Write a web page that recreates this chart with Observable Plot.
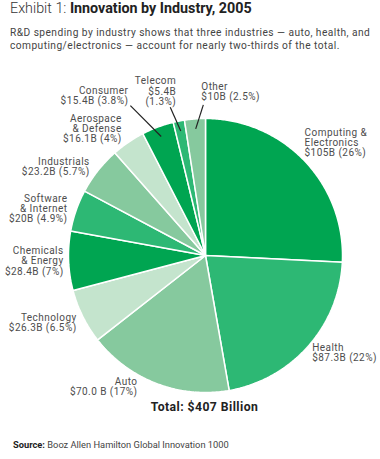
<!DOCTYPE html>
<html><head><meta charset="utf-8">
<script src="https://cdn.jsdelivr.net/npm/d3@7"></script>
<script src="https://cdn.jsdelivr.net/npm/@observablehq/plot@0.6"></script>
<style>
body{margin:0;background:#fff;font-family:Roboto,"Noto Sans",sans-serif;width:380px;height:459px;position:relative;overflow:hidden}
#title{position:absolute;left:10px;top:0px;font-size:14.3px;color:#222;white-space:nowrap}
#title .ex{font-weight:300;color:#333}
#title b{font-weight:700}
#sub{position:absolute;left:10px;top:26px;font-size:10.2px;letter-spacing:0.45px;line-height:13px;color:#444;white-space:nowrap}
#chart{position:absolute;left:0;top:56px}
#src{position:absolute;left:13px;top:439px;font-size:9.3px;color:#444;white-space:nowrap}
#src b{color:#222}
#chart svg text{letter-spacing:0.45px}
#chart svg text.total{letter-spacing:0.3px}
</style></head><body>
<div id="title"><span class="ex">Exhibit 1:</span> <b>Innovation by Industry, 2005</b></div>
<div id="sub">R&amp;D spending by industry shows that three industries — auto, health, and<br>computing/electronics — account for nearly two-thirds of the total.</div>
<div id="chart"></div>
<div id="src"><b>Source:</b> Booz Allen Hamilton Global Innovation 1000</div>
<script>
// ---- data ----
const categories = ["Computing &\nElectronics","Health","Auto","Technology","Chemicals\n& Energy","Software\n& Internet","Industrials","Aerospace\n& Defense","Consumer","Telecom","Other"];
const spending = [105, 87.3, 70.0, 26.3, 28.4, 20, 23.2, 16.1, 15.4, 5.4, 10];
const valueLabels = ["$105B (26%)","$87.3B (22%)","$70.0 B (17%)","$26.3B (6.5%)","$28.4B (7%)","$20B (4.9%)","$23.2B (5.7%)","$16.1B (4%)","$15.4B (3.8%)","$5.4B\n(1.3%)","$10B (2.5%)"];
const totalLabel = "Total: $407 Billion";

// ---- styles / layout ----
const palette = ["#00a551","#2db874","#86c99e","#c4e4cd"];
const R = 137, labelR = 145, leaderInR = 127;
// per-label nudges [dx, dy], text anchor, optional leader end offset from label
const labelLayout = [
  {d:[-6,-13], a:"start"},
  {d:[-2,1], a:"start"},
  {d:[-16,-4], a:"end"},
  {d:[1,2.5], a:"end"},
  {d:[3,0], a:"end"},
  {d:[-1,1], a:"end"},
  {d:[-2,1], a:"end"},
  {d:[-2,-7], a:"end"},
  {d:[-26.5,-24], a:"end", lead:[2,10]},
  {d:[-1,-22], a:"end", lead:[-6,16]},
  {d:[7,-19], a:"start", lead:[2,13]}
];
const font = "Roboto, 'Noto Sans', sans-serif";

const arcs = d3.pie().sort(null).value(d => d)(spending);
const pts = [];
arcs.forEach((a, i) => {
  pts.push({i, x: 0, y: 0});
  const n = Math.max(2, Math.ceil((a.endAngle - a.startAngle) / 0.01));
  for (let k = 0; k <= n; k++) {
    const t = a.startAngle + (a.endAngle - a.startAngle) * k / n;
    pts.push({i, x: R * Math.sin(t), y: -R * Math.cos(t)});
  }
});
const labels = arcs.map((a, i) => {
  const m = (a.startAngle + a.endAngle) / 2;
  const L = labelLayout[i];
  const x = labelR * Math.sin(m) + L.d[0], y = -labelR * Math.cos(m) + L.d[1];
  return {i, m, x, y, anchor: L.a, lead: L.lead, text: categories[i] + "\n" + valueLabels[i]};
});
const leaders = labels.filter(l => l.lead).map(l => ({
  x1: leaderInR * Math.sin(l.m), y1: -leaderInR * Math.cos(l.m),
  x2: l.x + l.lead[0], y2: l.y + l.lead[1]
}));

const labelOpts = {x: "x", y: "y", text: "text", lineAnchor: "middle", lineHeight: 1.02, fontSize: 10, fill: "#4d4d4d", fontFamily: font};
const chart = Plot.plot({
  width: 380, height: 380, margin: 0,
  x: {domain: [-205, 175], range: [0, 380], axis: null},
  y: {domain: [-199, 181], range: [0, 380], axis: null},
  marks: [
    Plot.line(pts, {x: "x", y: "y", z: "i", fill: d => palette[d.i % 4], stroke: "#fff", strokeWidth: 1.5, curve: "linear-closed", strokeLinejoin: "miter"}),
    Plot.link(leaders, {x1: "x1", y1: "y1", x2: "x2", y2: "y2", stroke: "#222", strokeWidth: 1.2}),
    Plot.text(labels.filter(l => l.anchor === "start"), {...labelOpts, textAnchor: "start"}),
    Plot.text(labels.filter(l => l.anchor === "end"), {...labelOpts, textAnchor: "end"}),
    Plot.text([totalLabel], {x: () => -1, y: () => R + 15, text: d => d, fontSize: 12.2, fontWeight: "bold", fill: "#222", fontFamily: font, lineAnchor: "middle", className: "total"})
  ]
});
document.getElementById("chart").appendChild(chart);
</script>
</body></html>
